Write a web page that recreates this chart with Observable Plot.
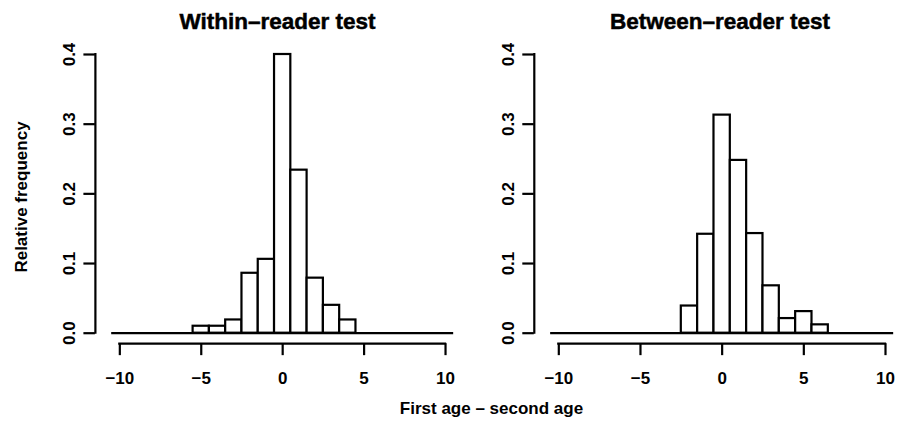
<!DOCTYPE html>
<html>
<head>
<meta charset="utf-8">
<script src="https://cdn.jsdelivr.net/npm/d3@7"></script>
<script src="https://cdn.jsdelivr.net/npm/@observablehq/plot@0.6"></script>
<style>
  html, body { margin: 0; padding: 0; background: #fff; }
  #root { position: relative; width: 900px; height: 426px; overflow: hidden; background: #fff;
          font-family: "Liberation Sans", Arial, Helvetica, sans-serif; color: #000; }
  .abs { position: absolute; white-space: nowrap; line-height: 1; }
  .title { font-size: 22.5px; font-weight: bold; transform: translateX(-50%); -webkit-text-stroke: 0.5px #000; }
  .label { font-size: 17px; font-weight: bold; }
  .panel { position: absolute; top: 0; }
</style>
</head>
<body>
<div id="root"></div>
<script>
// ---- data ----
const bins = [-10, -9, -8, -7, -6, -5, -4, -3, -2, -1, 0, 1, 2, 3, 4, 5, 6, 7, 8, 9, 10];
const binWidth = 1;
const withinFreq  = [0, 0, 0, 0, 0, 0.010, 0.010, 0.019, 0.086, 0.106, 0.400, 0.234, 0.079, 0.040, 0.019, 0, 0, 0, 0, 0, 0];
const betweenFreq = [0, 0, 0, 0, 0, 0, 0, 0, 0.039, 0.142, 0.313, 0.248, 0.143, 0.068, 0.021, 0.031, 0.012, 0, 0, 0, 0];
const xTicks = [-10, -5, 0, 5, 10];
const yTicks = [0, 0.1, 0.2, 0.3, 0.4];
const titles = ["Within\u2013reader test", "Between\u2013reader test"];
const yLabel = "Relative frequency";
const xLabel = "First age \u2013 second age";

const xDomain = [-11.5, 10.6];
const yDomain = [-0.015, 0.416];

function panel(freq, width, marginLeft, marginRight) {
  const data = bins.map((b, i) => ({bin: b, freq: freq[i]}));
  const nonzero = data.filter(d => d.freq > 0);
  return Plot.plot({
    width, height: 400,
    marginLeft, marginRight, marginTop: 42.85, marginBottom: 56.85,
    style: {fontFamily: '"Liberation Sans", Arial, Helvetica, sans-serif', fontSize: "17px", fontWeight: "bold", background: "#fff", color: "#000"},
    x: {domain: xDomain},
    y: {domain: yDomain},
    marks: [
      Plot.ruleY([0], {x1: bins[0] - binWidth / 2, x2: bins[bins.length - 1] + binWidth / 2, stroke: "#000", strokeWidth: 2.2}),
      Plot.rectY(nonzero, {x1: d => d.bin - binWidth / 2, x2: d => d.bin + binWidth / 2, y1: 0, y2: "freq",
        fill: "#fff", stroke: "#000", strokeWidth: 2.2}),
      Plot.ruleY([yDomain[0]], {x1: xTicks[0], x2: xTicks[xTicks.length - 1], stroke: "#000", strokeWidth: 2.2, strokeLinecap: "square"}),
      Plot.ruleX([xDomain[0]], {y1: yTicks[0], y2: yTicks[yTicks.length - 1], stroke: "#000", strokeWidth: 2.2, strokeLinecap: "square"}),
      Plot.axisX(xTicks, {anchor: "bottom", tickSize: 12, tickPadding: 16.5, strokeWidth: 2.2, label: null,
        tickFormat: d => d < 0 ? "\u2212" + (-d) : String(d)}),
      Plot.axisY(yTicks, {anchor: "left", tickSize: 11.5, tickPadding: 9, tickRotate: -90, strokeWidth: 2.2, label: null,
        tickFormat: d => d.toFixed(1)})
    ]
  });
}

const root = document.getElementById("root");

const left = document.createElement("div");
left.className = "panel"; left.style.left = "0px"; left.style.width = "456px";
left.appendChild(panel(withinFreq, 456, 94.9, 1.2));
root.appendChild(left);

const right = document.createElement("div");
right.className = "panel"; right.style.left = "456px"; right.style.width = "444px";
right.appendChild(panel(betweenFreq, 444, 77.8, 5.2));
root.appendChild(right);

function addText(text, cls, css) {
  const d = document.createElement("div");
  d.className = "abs " + cls;
  d.textContent = text;
  Object.assign(d.style, css);
  root.appendChild(d);
  return d;
}
addText(titles[0], "title", {left: "277.5px", top: "11px"});
addText(titles[1], "title", {left: "720px", top: "11px"});
addText(yLabel, "label", {left: "20.5px", top: "197px", transform: "translate(-50%, -50%) rotate(-90deg)"});
addText(xLabel, "label", {left: "491.5px", top: "400px", transform: "translateX(-50%)"});
</script>
</body>
</html>
